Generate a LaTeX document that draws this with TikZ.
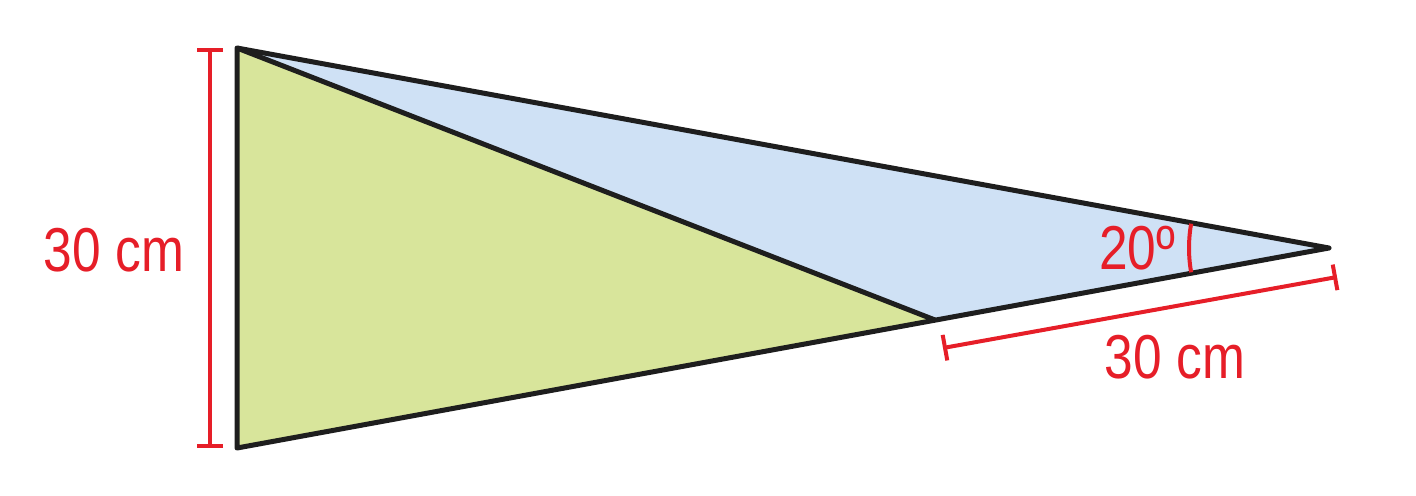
\documentclass[tikz,border=0pt]{standalone}
\usepackage{fontspec}
\setmainfont{Liberation Sans}
\newfontfamily\labelfont[FakeStretch=0.83]{Liberation Sans}
\usetikzlibrary{arrows.meta}
\definecolor{leafgreen}{HTML}{D8E59B}
\definecolor{skyblue}{HTML}{CFE1F5}
\definecolor{markred}{HTML}{E61E28}
\definecolor{edgeblack}{HTML}{1E1E1E}

\begin{document}
\begin{tikzpicture}[x=0.5pt,y=0.5pt,
    edge/.style={draw=edgeblack,line width=2.5pt,line join=round},
    measure/.style={draw=markred,line width=2pt,{Bar[width=13pt]}-{Bar[width=13pt]}},
    measuretext/.style={text=markred,font=\labelfont\fontsize{31}{31}\selectfont,inner sep=0pt}]
  \useasboundingbox (0,0) rectangle (1416,495);
  \coordinate (A) at (237,447);
  \coordinate (B) at (237,47);
  \coordinate (C) at (1329,247);
  \coordinate (D) at (935,175);
  \fill[leafgreen] (A) -- (B) -- (D) -- cycle;
  \fill[skyblue] (A) -- (D) -- (C) -- cycle;
  \draw[edge] (A) -- (B) -- (C) -- cycle;
  \draw[edge] (A) -- (D);
  % measures
  \coordinate (hl) at (210,447);
  \coordinate (hr) at (210,47);
  \draw[measure] (hl) -- (hr);
  \node[measuretext] (height) at (114,245) {30 cm};
  \coordinate (sl) at (943,147);
  \coordinate (sr) at (1337,218);
  \draw[measure] (sl) -- (sr);
  \node[measuretext] (side) at (1175,138) {30 cm};
  % angle
  \draw[draw=markred,line width=2pt] (C) ++(170:140) arc[start angle=170,end angle=190,radius=140];
  \node[measuretext] (angle) at (1137,247) {20º};
\end{tikzpicture}
\end{document}
